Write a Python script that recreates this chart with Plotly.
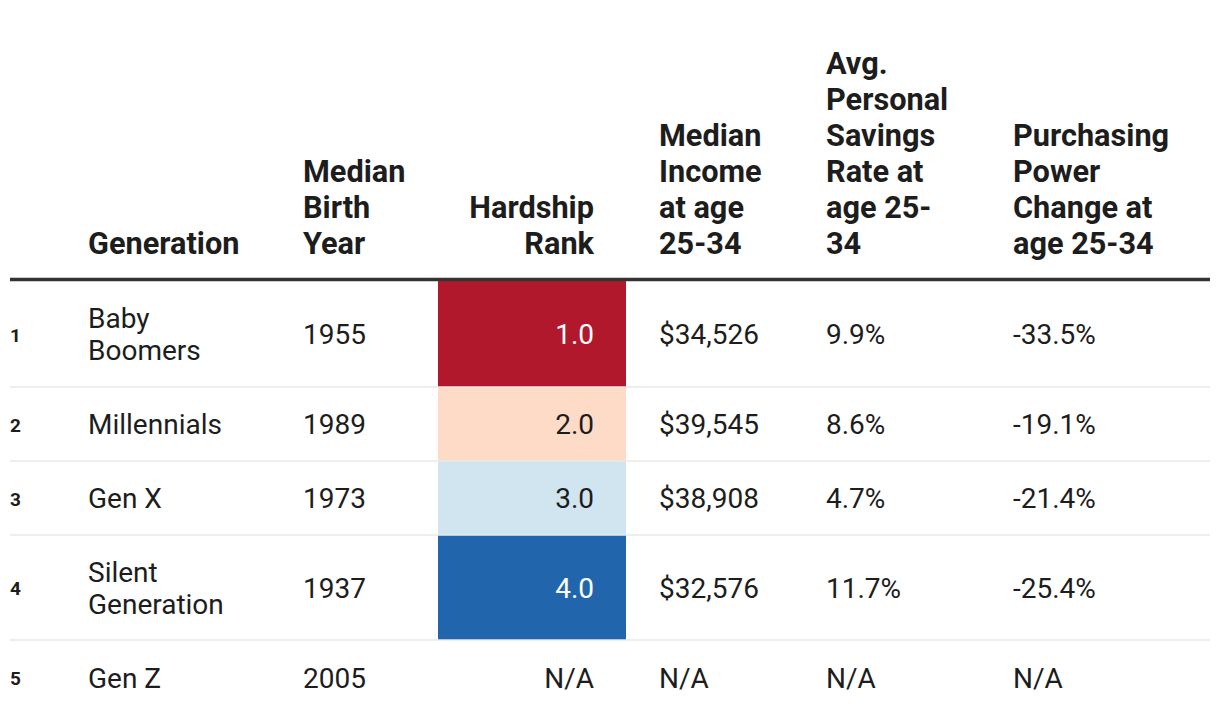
import plotly.graph_objects as go

# ---------------- data ----------------
row_index = ["1", "2", "3", "4", "5"]
generations = ["Baby\nBoomers", "Millennials", "Gen X", "Silent\nGeneration", "Gen Z"]
birth_year = ["1955", "1989", "1973", "1937", "2005"]
hardship_rank = [1.0, 2.0, 3.0, 4.0, None]
median_income = ["$34,526", "$39,545", "$38,908", "$32,576", "N/A"]
savings_rate = ["9.9%", "8.6%", "4.7%", "11.7%", "N/A"]
purchasing_change = ["-33.5%", "-19.1%", "-21.4%", "-25.4%", "N/A"]

headers = ["Generation", "Median\nBirth\nYear", "Hardship\nRank",
           "Median\nIncome\nat age\n25-34", "Avg.\nPersonal\nSavings\nRate at\nage 25-\n34",
           "Purchasing\nPower\nChange at\nage 25-34"]

rank_colors = ["#b2182b", "#fddbc7", "#d1e5f0", "#2166ac"]

# ---------------- layout constants ----------------
OFF = 8  # page body margin
W, H = 1220, 724
row_edges = [281, 387, 461, 535, 640, 715]
row_centers = [(row_edges[i] + row_edges[i + 1]) / 2 + 3 for i in range(5)]
col_x = {"idx": 10, "gen": 88, "year": 303, "rank_r": 594, "inc": 659, "sav": 826, "pp": 1013}
rank_cell = (438, 626)
TEXT = "#1d1d1d"
BODY_FS = 28
HEAD_FS = 30.7
BODY_LH = 32
HEAD_LH = 36
HEAD_LAST = 246

fig = go.Figure()

# colored hardship cells (heatmap with bin edges)
z = [[v] for v in hardship_rank]
fig.add_trace(go.Heatmap(
    x=list(rank_cell), y=row_edges, z=z, zmin=1, zmax=4,
    colorscale=[[0, rank_colors[0]], [1 / 3, rank_colors[1]], [2 / 3, rank_colors[2]], [1, rank_colors[3]]],
    showscale=False, hoverinfo="skip"))


def add_text(xpos, items, centers, lh, fs, color, bold=False, pos="middle right"):
    xs, ys, ts, cs = [], [], [], []
    for txt, cy, col in zip(items, centers, color):
        lines = txt.split("\n")
        n = len(lines)
        for k, ln in enumerate(lines):
            xs.append(xpos)
            ys.append(cy + (k - (n - 1) / 2) * lh)
            ts.append(ln)
            cs.append(col)
    fig.add_trace(go.Scatter(
        x=xs, y=ys, text=ts, mode="text", textposition=pos,
        textfont=dict(family="Roboto", size=fs, color=cs,
                      weight="bold" if bold else "normal"),
        hoverinfo="skip", showlegend=False, cliponaxis=False))


def add_header(xpos, txt, pos="middle right"):
    lines = txt.split("\n")
    n = len(lines)
    ys = [HEAD_LAST - (n - 1 - k) * HEAD_LH for k in range(n)]
    fig.add_trace(go.Scatter(
        x=[xpos] * n, y=ys, text=lines, mode="text", textposition=pos,
        textfont=dict(family="Roboto", size=HEAD_FS, color=TEXT, weight="bold"),
        hoverinfo="skip", showlegend=False, cliponaxis=False))


dark = [TEXT] * 5
add_text(col_x["idx"], row_index, row_centers, BODY_LH, 19, dark, bold=True)
add_text(col_x["gen"], generations, row_centers, BODY_LH, BODY_FS, dark)
add_text(col_x["year"], birth_year, row_centers, BODY_LH, BODY_FS, dark)
rank_txt = [f"{v:.1f}" if v is not None else "N/A" for v in hardship_rank]
rank_col = ["#ffffff" if v in (1.0, 4.0) else TEXT for v in hardship_rank]
add_text(col_x["rank_r"], rank_txt, row_centers, BODY_LH, BODY_FS, rank_col, pos="middle left")
add_text(col_x["inc"], median_income, row_centers, BODY_LH, BODY_FS, dark)
add_text(col_x["sav"], savings_rate, row_centers, BODY_LH, BODY_FS, dark)
add_text(col_x["pp"], purchasing_change, row_centers, BODY_LH, BODY_FS, dark)

add_header(col_x["gen"], headers[0])
add_header(col_x["year"], headers[1])
add_header(col_x["rank_r"], headers[2], pos="middle left")
add_header(col_x["inc"], headers[3])
add_header(col_x["sav"], headers[4])
add_header(col_x["pp"], headers[5])

shapes = [dict(type="line", x0=10, x1=1210, y0=279.5, y1=279.5, xref="x", yref="y",
               line=dict(color="#333333", width=3.5), layer="above")]
for yb in row_edges[1:5]:
    shapes.append(dict(type="line", x0=10, x1=1210, y0=yb, y1=yb, xref="x", yref="y",
                       line=dict(color="#e9e9e9", width=1.5), layer="above"))

fig.update_layout(
    width=W - OFF, height=H - OFF, margin=dict(l=0, r=0, t=0, b=0),
    paper_bgcolor="white", plot_bgcolor="white", showlegend=False,
    xaxis=dict(range=[OFF, W], visible=False, fixedrange=True),
    yaxis=dict(range=[H, OFF], visible=False, fixedrange=True),
    shapes=shapes,
)

fig.write_html("out.html")
